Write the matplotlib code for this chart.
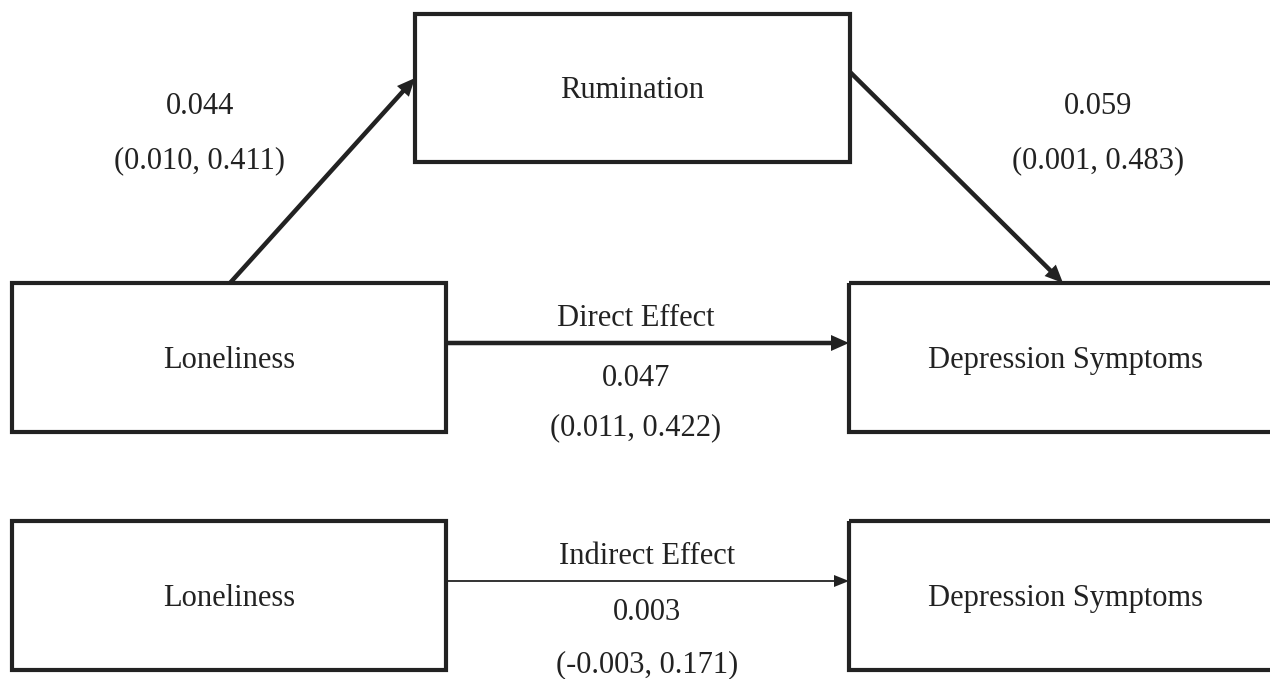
import matplotlib.pyplot as plt
from matplotlib.patches import Rectangle

plt.rcParams['font.family'] = ['Liberation Serif', 'DejaVu Serif']

# node labels
nodes = ['Rumination', 'Loneliness', 'Depression Symptoms', 'Loneliness', 'Depression Symptoms']
# path estimates and confidence intervals
path_names = ['a', 'b', 'Direct Effect', 'Indirect Effect']
path_est = ['0.044', '0.059', '0.047', '0.003']
path_ci = ['(0.010, 0.411)', '(0.001, 0.483)', '(0.011, 0.422)', '(-0.003, 0.171)']

# layout (pixel coordinates, y down)
boxes = [(415, 14, 435, 148), (12, 283, 434, 149), (849, 283, 440, 149),
         (12, 521, 434, 149), (849, 521, 440, 149)]
col = '#222222'

fig = plt.figure(figsize=(12.7, 6.79), dpi=100)
ax = fig.add_axes([0, 0, 1, 1])
ax.set_xlim(0, 1270)
ax.set_ylim(679, 0)
ax.axis('off')

fs = 22
dy = 3
for (x, y, w, h), name in zip(boxes, nodes):
    ax.add_patch(Rectangle((x, y), w, h, fill=False, ec=col, lw=3.0, joinstyle='miter'))
    cx = x + w / 2 if x + w < 1270 else 1066
    ax.text(cx, y + h / 2 + dy, name, ha='center', va='center', fontsize=fs, color=col)

def arrow(p0, p1, width, hw, hl):
    ax.arrow(p0[0], p0[1], p1[0] - p0[0], p1[1] - p0[1], width=width,
             head_width=hw, head_length=hl, length_includes_head=True,
             fc=col, ec='none', lw=0)

arrow((230, 283), (415, 78), 4.5, 16, 18)
arrow((850, 72), (1063, 283), 4.5, 16, 18)
arrow((446, 343), (849, 343), 4.5, 16, 18)
arrow((446, 581), (849, 581), 1.8, 12, 15)

def label(x, y, s):
    ax.text(x, y + dy, s, ha='center', va='center', fontsize=fs, color=col)

# a and b paths
label(200, 104, path_est[0])
label(200, 158, path_ci[0])
label(1098, 104, path_est[1])
label(1098, 158, path_ci[1])

# direct / indirect
label(636, 316, path_names[2])
label(636, 375, path_est[2])
label(636, 425, path_ci[2])
label(647, 553, path_names[3])
label(647, 610, path_est[3])
label(647, 662, path_ci[3])

fig.savefig('out.png', dpi=100)
